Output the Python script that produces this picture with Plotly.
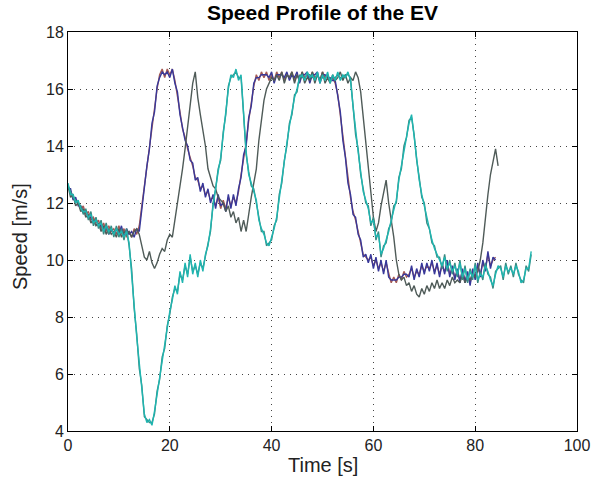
import plotly.graph_objects as go

DT = 0.5  # sampling interval [s]

speed_red = [12.6,12.4,12.2,12.1,12.0,11.8,11.9,11.6,11.7,11.4,11.5,11.3,11.4,11.1,11.3,11.0,11.2,11.0,11.1,10.9,
             11.2,10.9,11.1,10.8,11.0,10.8,11.1,10.9,11.2,11.9,12.6,13.2,14.0,14.7,15.3,16.0,16.5,16.7,16.4,16.7,
             16.5,16.7,16.3,15.8,15.2,14.6,14.3,13.9,13.6,13.3,12.9,12.8,12.5,12.6,12.3,12.4,12.1,12.2,11.9,12.2,
             11.8,12.1,11.8,12.2,11.9,12.2,12.0,12.4,13.0,13.6,14.1,14.9,15.5,16.1,16.5,16.3,16.6,16.4,16.6,16.3,
             16.5,16.3,16.6,16.4,16.6,16.3,16.5,16.4,16.6,16.3,16.5,16.3,16.6,16.4,16.5,16.3,16.6,16.4,16.5,16.3,
             16.6,16.4,16.5,16.3,16.4,16.2,15.8,15.1,14.3,13.5,12.8,12.2,11.7,11.4,11.0,10.6,10.2,10.1,10.0,10.1,
             9.8,10.0,9.7,9.9,9.6,9.9,9.5,9.2,9.4,9.2,9.5,9.3,9.6,9.4,9.5,9.7,9.4,9.6,9.5,9.8,
             9.6,9.8,9.7,9.9,9.6,9.8,9.5,9.8,9.6,9.9,9.5,9.7,9.4,9.6,9.3,9.6,9.3,9.5,9.2,9.6,
             9.4,9.8,9.5,9.9,9.7,10.2,9.8,10.0,10.1]

speed_blue = [12.5,12.5,12.1,12.2,11.9,11.9,11.7,11.7,11.5,11.5,11.3,11.4,11.2,11.2,11.1,11.2,10.9,11.1,10.9,11.1,
              10.9,11.2,10.8,11.1,10.9,11.0,10.8,11.1,11.0,11.8,12.5,13.3,13.9,14.8,15.2,16.1,16.4,16.6,16.5,16.6,
              16.4,16.7,16.2,15.9,15.1,14.7,14.2,14.0,13.5,13.4,12.8,12.9,12.4,12.7,12.2,12.5,12.0,12.3,11.8,12.3,
              11.9,12.0,11.7,12.3,11.8,12.3,11.9,12.5,12.9,13.7,14.0,15.0,15.4,16.2,16.4,16.4,16.5,16.5,16.5,16.4,
              16.6,16.2,16.5,16.5,16.5,16.4,16.6,16.3,16.5,16.4,16.6,16.2,16.5,16.5,16.6,16.2,16.5,16.5,16.6,16.2,
              16.5,16.5,16.4,16.4,16.3,16.3,15.7,15.2,14.2,13.6,12.7,12.3,11.6,11.5,10.9,10.7,10.1,10.2,9.9,10.2,
              9.7,10.1,9.6,10.0,9.5,10.0,9.4,9.3,9.3,9.3,9.4,9.4,9.5,9.5,9.4,9.8,9.3,9.7,9.4,9.9,
              9.5,9.9,9.6,10.0,9.5,9.9,9.4,9.9,9.5,10.0,9.4,9.8,9.3,9.7,9.2,9.7,9.2,9.6,9.1,9.7,
              9.3,9.9,9.4,10.0,9.6,10.3,9.7,10.1,10.0]

speed_cyan = [12.7,12.3,12.3,12.0,12.1,11.8,11.7,11.7,11.5,11.6,11.3,11.4,11.2,11.3,11.0,11.2,11.0,11.1,10.9,11.1,
              10.9,11.0,10.8,11.0,10.6,9.6,8.4,7.3,6.3,5.5,4.6,4.3,4.4,4.2,4.7,5.3,5.9,6.5,7.0,7.6,
              8.2,8.6,9.1,8.8,9.6,9.2,9.9,9.4,10.2,9.5,9.9,9.4,10.0,9.6,10.2,10.5,11.1,11.9,12.6,13.1,
              13.6,14.4,15.2,16.0,16.5,16.4,16.7,16.3,16.5,15.0,13.8,13.0,12.7,12.4,12.1,11.4,11.1,10.9,10.6,10.5,
              10.8,11.1,11.5,12.2,12.8,13.4,14.1,14.7,15.2,15.7,16.0,16.4,16.5,16.3,16.6,16.4,16.5,16.3,16.6,16.2,
              16.5,16.3,16.6,16.2,16.5,16.3,16.6,16.3,16.5,16.4,16.6,16.3,15.4,14.5,13.8,13.1,12.4,12.1,11.8,11.3,
              11.4,10.8,10.9,10.2,10.4,10.7,11.0,11.4,11.8,12.1,12.8,13.3,13.9,14.4,14.8,15.1,14.3,13.6,12.8,12.3,
              11.9,11.4,11.0,10.7,10.4,10.2,10.0,9.8,10.1,9.7,9.9,9.6,9.8,9.5,9.9,9.4,9.7,9.3,9.6,9.4,
              9.8,9.3,9.5,9.4,9.8,9.6,9.3,9.1,9.5,9.8,9.7,9.4,9.8,9.6,9.7,9.5,9.8,9.6,9.2,9.3,
              9.7,9.7,10.3]

speed_teal = [12.6,12.4,12.2,12.1,12.0,11.9,11.6,11.8,11.4,11.7,11.2,11.5,11.1,11.4,10.9,11.3,10.9,11.2,10.8,11.2,
              10.8,11.1,10.7,11.1,10.5,9.7,8.3,7.4,6.2,5.6,4.5,4.4,4.3,4.3,4.6,5.4,5.8,6.6,6.9,7.7,
              8.1,8.7,9.0,8.9,9.5,9.3,9.8,9.5,10.1,9.6,9.8,9.5,9.9,9.7,10.1,10.6,11.0,12.0,12.5,13.2,
              13.5,14.5,15.1,16.1,16.4,16.5,16.6,16.4,16.4,15.1,13.7,13.1,12.6,12.5,12.0,11.5,11.0,11.0,10.5,10.6,
              10.7,11.2,11.4,12.3,12.7,13.5,14.0,14.8,15.1,15.8,15.9,16.5,16.4,16.4,16.5,16.5,16.4,16.4,16.5,16.3,
              16.4,16.4,16.5,16.3,16.4,16.4,16.5,16.4,16.4,16.5,16.5,16.4,15.5,14.4,13.9,13.0,12.5,12.0,11.9,11.2,
              11.5,10.7,11.0,10.1,10.5,10.6,11.1,11.3,11.9,12.0,12.9,13.2,14.0,14.3,14.9,15.0,14.4,13.5,12.9,12.2,
              12.0,11.3,11.1,10.6,10.5,10.1,10.1,9.7,10.2,9.6,10.0,9.5,9.9,9.4,10.0,9.3,9.8,9.2,9.7,9.3,
              9.9,9.2,9.6,9.3,9.9,9.5,9.4,9.0,9.6,9.7,9.8,9.3,9.9,9.5,9.8,9.4,9.9,9.5,9.3,9.2,
              9.8,9.6,10.2]

speed_gray = [12.6,12.2,12.3,11.9,12.0,11.7,11.8,11.5,11.6,11.3,11.4,11.2,11.3,11.0,11.2,10.9,11.1,10.9,11.0,10.8,
              11.1,10.8,11.0,10.9,11.0,10.8,11.0,11.1,10.9,10.5,10.1,10.0,10.3,9.9,9.7,9.9,10.2,10.4,10.3,10.7,
              10.9,10.8,11.4,11.9,12.6,13.2,13.9,14.6,15.4,16.2,16.6,15.7,15.1,14.6,14.0,13.2,12.9,12.6,12.5,12.2,
              12.1,12.0,11.7,11.9,11.5,11.7,11.3,11.5,11.0,11.4,11.0,11.7,12.2,12.7,13.2,14.2,15.0,15.6,16.0,16.2,
              16.4,16.3,16.5,16.3,16.6,16.2,16.5,16.4,16.6,16.2,16.5,16.3,16.6,16.2,16.4,16.3,16.6,16.2,16.5,16.3,
              16.6,16.2,16.4,16.2,16.5,16.3,16.4,16.6,16.3,16.5,16.2,16.4,16.3,16.6,16.4,15.9,15.0,14.1,13.1,12.4,
              11.5,11.0,11.3,11.9,12.4,12.8,12.0,11.4,10.8,10.0,9.5,9.3,9.4,9.1,9.2,8.9,9.1,8.8,8.7,9.0,
              8.8,9.1,8.9,9.2,9.0,9.3,9.0,9.2,9.0,9.3,9.1,9.4,9.2,9.3,9.2,9.5,9.2,9.4,9.3,9.5,
              9.4,9.6,10.0,10.6,11.5,12.3,13.0,13.5,13.9,13.3]

X_TICKS = [0, 20, 40, 60, 80, 100]
Y_TICKS = [4, 6, 8, 10, 12, 14, 16, 18]

series = [
    (speed_red, "#a35a55"),
    (speed_blue, "#38389a"),
    (speed_gray, "#4f5b58"),
    (speed_teal, "#3a8a82"),
    (speed_cyan, "#1fb5b0"),
]

fig = go.Figure()
for vals, col in series:
    t = [i * DT for i in range(len(vals))]
    fig.add_trace(go.Scatter(x=t, y=vals, mode="lines",
                             line=dict(color=col, width=1.4), showlegend=False))

font_family = "Liberation Sans, Arial, sans-serif"
L, R, T, B = 68, 577, 32, 431
axis_common = dict(
    showline=True, linecolor="black", linewidth=1, mirror="ticks",
    ticks="inside", ticklen=5, tickcolor="black", automargin=False,
    showgrid=True, gridcolor="#444444", gridwidth=1, griddash="1px,5px",
    zeroline=False, tickfont=dict(size=16, color="#222", family=font_family),
)

fig.update_layout(
    width=592, height=488,
    margin=dict(l=L, r=592 - R, t=T, b=488 - B),
    paper_bgcolor="white", plot_bgcolor="white",
    title=dict(text="<b>Speed Profile of the EV</b>", x=(L + R) / 2 / 592, xanchor="center",
               y=1 - 13 / 488, yanchor="middle", yref="container",
               font=dict(size=21, color="black", family=font_family)),
    xaxis=dict(range=[0, 100], tickvals=X_TICKS, **axis_common),
    yaxis=dict(range=[4, 18], tickvals=Y_TICKS, **axis_common),
    annotations=[
        dict(text="Time [s]", xref="paper", yref="paper", x=0.5, y=-(465 - B) / (B - T),
             xanchor="center", yanchor="middle", showarrow=False,
             font=dict(size=20, color="#222", family=font_family)),
        dict(text="Speed [m/s]", xref="paper", yref="paper", x=-(L - 20) / (R - L), y=1 - (237 - T) / (B - T),
             xanchor="center", yanchor="middle", showarrow=False, textangle=-90,
             font=dict(size=20, color="#222", family=font_family)),
    ],
)

fig.write_html("out.html")
